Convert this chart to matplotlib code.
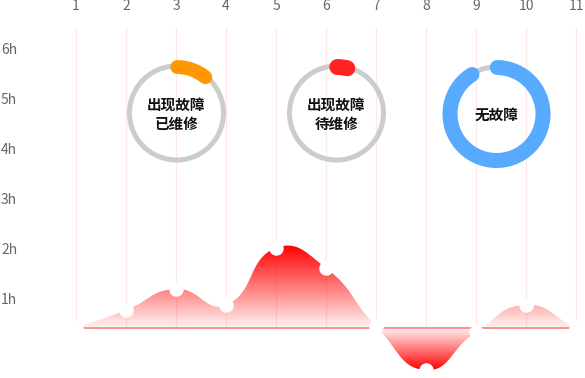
import numpy as np
import matplotlib
matplotlib.use('Agg')
from matplotlib import pyplot as plt
from matplotlib.patches import PathPatch

plt.rcParams['font.family'] = ['Noto Sans CJK SC', 'DejaVu Sans']

# data
days = [1, 2, 3, 4, 5, 6, 7, 8, 9, 10, 11]
hours = [0.44, 0.80, 1.22, 0.90, 2.04, 1.64, 0.48, -0.40, 0.36, 0.90, 0.44]
base = 0.44
ytick_vals = [1, 2, 3, 4, 5, 6]
ytick_labels = ['1h', '2h', '3h', '4h', '5h', '6h']

ring_labels = ['出现故障\n已维修', '出现故障\n待维修', '无故障']
ring_share = [0.105, 0.035, 0.909]
ring_colors = ['#ff9800', '#ff2424', '#58aaff']

fig = plt.figure(figsize=(5.85, 3.78), dpi=100)
ax = fig.add_axes([0, 0, 1, 1])
ax.set_xlim(1 - 76 / 50, 1 + (585 - 76) / 50)
ax.set_ylim(-28 / 50, 350 / 50)
ax.axis('off')

# grid + labels
for d in days:
    ax.plot([d, d], [base, 6.44], color='#fde8e8', lw=0.8, zorder=0)
    ax.text(d, 6.87, str(d), ha='center', va='center', fontsize=10, color='#666666')
for v, lab in zip(ytick_vals, ytick_labels):
    ax.text(-0.5, v, lab, ha='left', va='center', fontsize=10, color='#666666')


# smooth curve (echarts-like bezier)
def smooth_curve(xs, ys, smooth=0.5, n=40):
    pts = np.column_stack([xs, ys]).astype(float)
    m = len(pts)
    cps = []
    for i in range(m):
        p = pts[i]
        prev = pts[i - 1] if i > 0 else p
        nxt = pts[i + 1] if i < m - 1 else p
        v = nxt - prev
        d0 = np.linalg.norm(p - prev)
        d1 = np.linalg.norm(nxt - p)
        s = d0 + d1 if d0 + d1 > 0 else 1
        cps.append((p - v * smooth * d0 / s, p + v * smooth * d1 / s))
    out = []
    t = np.linspace(0, 1, n)[:, None]
    for i in range(m - 1):
        p0, p3 = pts[i], pts[i + 1]
        c1, c2 = cps[i][1], cps[i + 1][0]
        seg = (1 - t) ** 3 * p0 + 3 * (1 - t) ** 2 * t * c1 + 3 * (1 - t) * t ** 2 * c2 + t ** 3 * p3
        out.append(seg if i == 0 else seg[1:])
    out = np.vstack(out)
    return out[:, 0], out[:, 1]


cx, cy = smooth_curve(days, hours)
poly = ax.fill_between(cx, cy, base, color='none', lw=0)
path = poly.get_paths()[0]
patch = PathPatch(path, transform=ax.transData, facecolor='none', edgecolor='none')
ax.add_patch(patch)

ymax, ymin = cy.max(), cy.min()
yy = np.linspace(ymin, ymax, 400)
alpha = np.where(yy >= base, (yy - base) / (ymax - base), (base - yy) / (base - ymin))
alpha = 0.05 + 0.95 * np.clip(alpha, 0, 1)
img = np.zeros((len(yy), 1, 4))
img[:, 0, 0] = 1.0
img[:, 0, 3] = alpha
im = ax.imshow(img, extent=[days[0], days[-1], ymin, ymax], origin='lower',
               aspect='auto', interpolation='bilinear', zorder=2)
im.set_clip_path(patch)

ax.plot([days[0], days[-1]], [base, base], color='#ff8f8f', lw=1.4, zorder=3)
ax.plot(days, hours, 'o', color='white', mec='white', markersize=9.4, zorder=5)

# rings
centers = [(3.01, 4.74), (6.21, 4.74), (9.41, 4.72)]
ring_w = [10.0, 11.5, 10.8]
ring_r = [0.92, 0.92, 0.93]
for (x0, y0), lab, share, col, w, r in zip(centers, ring_labels, ring_share, ring_colors, ring_w, ring_r):
    th = np.linspace(0, 2 * np.pi, 200)
    ax.plot(x0 + 0.94 * np.cos(th), y0 + 0.94 * np.sin(th), color='#cccccc', lw=3.6, zorder=4)
    a0 = np.deg2rad(89)
    th = np.linspace(a0, a0 - share * 2 * np.pi, 200)
    ax.plot(x0 + r * np.cos(th), y0 + r * np.sin(th), color=col, lw=w,
            solid_capstyle='round', zorder=4)
    ax.text(x0, y0 - 0.04, lab, ha='center', va='center', fontsize=10.5,
            fontweight='bold', color='#111111', linespacing=1.2, zorder=6)

plt.savefig('out.png', dpi=100)
